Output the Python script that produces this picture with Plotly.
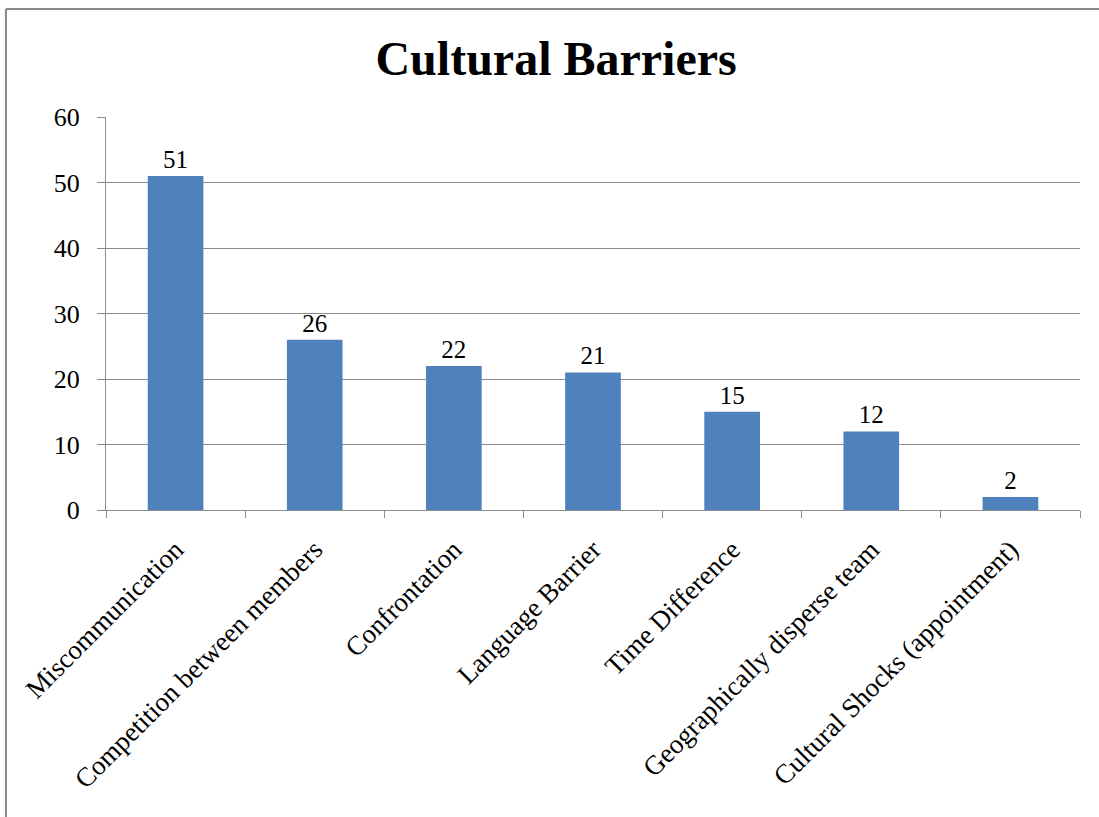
import plotly.graph_objects as go

# Survey counts per cultural barrier
categories = [
    "Miscommunication",
    "Competition between members",
    "Confrontation",
    "Language Barrier",
    "Time Difference",
    "Geographically disperse team",
    "Cultural Shocks (appointment)",
]
counts = [51, 26, 22, 21, 15, 12, 2]
y_ticks = [0, 10, 20, 30, 40, 50, 60]

SERIF = "Liberation Serif, Times New Roman, serif"
GRID = "#8c8c8c"

fig = go.Figure(
    go.Bar(
        x=categories,
        y=counts,
        marker=dict(color="#4f81bd", line=dict(width=0)),
        text=[str(v) for v in counts],
        textposition="outside",
        cliponaxis=False,
        textfont=dict(family=SERIF, size=25, color="#000000"),
    )
)

fig.update_layout(
    width=1099,
    height=817,
    margin=dict(l=106, r=19, t=117, b=307),
    paper_bgcolor="white",
    plot_bgcolor="white",
    bargap=0.6,
    showlegend=False,
    title=dict(
        text="<b>Cultural Barriers</b>",
        font=dict(family=SERIF, size=48, color="#000000"),
        x=0.506,
        xanchor="center",
        y=0.929,
        yanchor="middle",
    ),
    font=dict(family=SERIF, color="#000000"),
)

fig.update_xaxes(
    type="category",
    tickangle=-45,
    tickson="boundaries",
    ticks="outside",
    ticklen=7,
    tickcolor=GRID,
    showline=True,
    linecolor=GRID,
    linewidth=1,
    showgrid=False,
    ticklabelstandoff=12,
    tickfont=dict(family=SERIF, size=27, color="#000000"),
)

fig.update_yaxes(
    range=[0, 60],
    tickvals=y_ticks,
    ticks="outside",
    ticklen=8,
    tickcolor=GRID,
    showline=True,
    linecolor=GRID,
    linewidth=1,
    showgrid=True,
    gridcolor=GRID,
    gridwidth=1,
    zeroline=False,
    ticklabelstandoff=12,
    tickfont=dict(family=SERIF, size=26, color="#000000"),
)

# Outer chart frame (top and left edges)
frame = dict(type="line", xref="paper", yref="paper",
             line=dict(color="#8a8a8a", width=2))
fig.add_shape(**frame, x0=-0.1027, x1=1.03, y0=1.2748, y1=1.2748)
fig.add_shape(**frame, x0=-0.1027, x1=-0.1027, y0=1.2748, y1=-0.8)

fig.write_html("out.html")
